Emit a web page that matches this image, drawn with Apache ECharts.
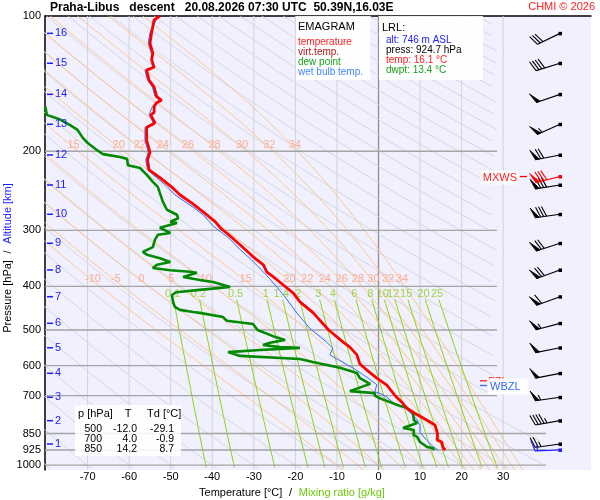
<!DOCTYPE html>
<html>
<head>
<meta charset="utf-8">
<script src="https://cdn.jsdelivr.net/npm/echarts@6.0.0/dist/echarts.min.js"></script>
<style>
html,body{margin:0;padding:0;background:#ffffff;}
#chart{width:600px;height:500px;}
</style>
</head>
<body>
<div id="chart"></div>
<script>
// ================= DATA =================
const pressureTicks = [100, 200, 300, 400, 500, 600, 700, 850, 925, 1000];
const temperatureTicks = [-70, -60, -50, -40, -30, -20, -10, 0, 10, 20, 30];
const altitudeKm = [1, 2, 3, 4, 5, 6, 7, 8, 9, 10, 11, 12, 13, 14, 15, 16];
const altitudeP = [896.9, 795.9, 705.9, 624.3, 547.7, 483.2, 421.6, 367.6, 320.6, 276.3, 237.8, 203.9, 174.2, 149.4, 127.4, 109.3];

// temperature profile
const tempP = [100,102,109,115,121,125,130,132,139,144,151,154,156,159,164,166,173,177,189,201,209,220,229,240,250,261,273,287,296,310,325,344,358,371,381,397,414,433,458,500,532,546,568,595,614,640,663,700,727,746,765,797,814,850,879,888,916,925];
const tempT = [-52.6,-54.0,-54.6,-55.0,-54.3,-54.6,-54.0,-55.8,-55.2,-54.0,-53.4,-52.2,-53.4,-54.0,-54.0,-54.8,-53.8,-55.8,-55.8,-55.0,-55.6,-55.2,-52.6,-49.8,-47.8,-44.9,-42.2,-39.3,-38.1,-35.5,-33.0,-30.1,-27.7,-26.9,-25.3,-22.9,-20.5,-18.9,-15.7,-12.0,-8.5,-6.9,-5.2,-4.5,-2.8,-0.4,2.0,4.0,5.8,6.8,8.6,12.0,13.6,14.2,14.1,15.2,15.6,16.1];

// wet bulb temperature profile
const wetP = [100,109,115,121,130,132,139,144,151,154,159,166,173,177,189,201,209,220,229,240,250,266,277,294,312,330,348,361,386,401,422,460,496,532,549,568,580,610,640,662,686,695,705,727,750,790,815,845,880,910,925];
const wetT = [-53.0,-55.0,-55.4,-54.7,-54.4,-56.2,-55.6,-54.4,-53.8,-52.8,-54.4,-55.2,-54.2,-56.2,-56.2,-55.4,-56.0,-55.6,-53.4,-50.8,-49.0,-44.7,-42.2,-39.7,-36.0,-33.5,-30.7,-29.0,-26.0,-24.5,-22.5,-19.5,-16.5,-12.5,-11.0,-11.7,-10.0,-5.8,-2.5,-0.4,-0.9,0.8,2.0,3.6,6.8,9.2,10.0,10.0,11.6,13.2,14.3];

// dew point profile
const dewP = [159,166,170,175,179,187,192,199,203,206,208,215,218,226,234,240,248,259,270,277,282,287,289,296,304,307,315,327,335,340,346,353,358,364,368,371,373,381,387,391,401,403,407,412,418,435,444,451,456,458,468,477,485,500,516,526,534,540,546,548,554,560,571,580,589,607,623,640,659,684,691,700,710,738,742,765,793,805,826,835,857,865,888,911,916,925];
const dewT = [-80.2,-79.8,-76.6,-74.2,-72.5,-71.1,-69.9,-67.7,-66.3,-62.2,-60.5,-60.3,-57.4,-55.7,-54.3,-53.1,-52.6,-51.9,-50.9,-48.5,-48.2,-50.1,-48.5,-52.6,-50.1,-53.1,-53.8,-54.3,-56.7,-55.7,-52.6,-50.1,-53.3,-54.3,-50.1,-45.4,-43.7,-47.0,-43.0,-39.8,-35.7,-38.1,-43.0,-48.7,-49.7,-49.4,-49.0,-47.8,-44.6,-43.0,-37.4,-36.5,-30.2,-29.1,-25.4,-22.5,-26.1,-27.8,-23.7,-18.9,-28.5,-36.2,-33.3,-18.9,-15.8,-9.3,-5.2,-4.5,-2.0,-6.9,-0.9,-0.9,0.4,5.2,6.6,8.3,8.5,9.3,5.9,8.5,8.5,9.3,10.0,11.7,13.1,13.4];

// wind barbs at altitude levels (1..16 km)
const windP = [896.9, 795.9, 705.9, 624.3, 547.7, 483.2, 421.6, 367.6, 320.6, 276.3, 237.8, 203.9, 174.2, 149.4, 127.4, 109.3];
const windDir = [262, 260, 262, 259, 259, 255, 250, 250, 252, 262, 261, 259, 246, 251, 253, 244];
const windSpd = [25, 45, 55, 50, 50, 55, 60, 70, 70, 80, 80, 70, 55, 50, 40, 30];
const maxWindP = [227.7];
const maxWindDir = [256];
const maxWindSpd = [80];
const surfaceP = [924.7];
const surfaceDir = [268];
const surfaceSpd = [15];
const freezingLevelP = [652];
const wetBulbZeroP = [668];

// thermodynamic reference lines
const dryAdiabatThetaC = [-80,-70,-60,-50,-40,-30,-20,-10,0,10,20,30,40,50,60,70,80,90,100,110,120,130,140,150,160,170,180,190,200,210,220,230,240,250,260,270,280,290,300,310];
const moistThetaW = [-10,-5,0,5,10,15,20,22,24,26,28,30,32,34];
const upperMoistLabels = [15,20,22,24,26,28,30,32,34];
const lowerMoistLabels = [-10,-5,0,5,10,15,20,22,24,26,28,30,32,34];
const mixingRatios = [0.1,0.2,0.5,1,1.4,2,3,4,6,8,10,12,15,20,25];

// table & LRL box
const tableP = [500, 700, 850];
const tableT = [-12.0, 4.0, 14.2];
const tableTd = [-29.1, -0.9, 8.7];
const lrlAlt = 746, lrlPress = 924.7, lrlTemp = 16.1, lrlDwpt = 13.4;

// ================= LAYOUT / STYLE =================
const X_MIN = -80.25, X_MAX = 51.13, P_TOP = 100, P_BOT = 1024.8;
const FONT = '"Liberation Sans", Arial, sans-serif';
const UPPER_LABEL_P = 193.7, LOWER_LABEL_P = 385.6, MIX_LABEL_P = 415.7, MIX_TOP_P = 428;
function tMax(p) { return p < 780 ? 28.5 : 40.3; }

// ================= helpers =================
function zip(ps, ts) { return ps.map((p, i) => [ts[i], p]); }
function lineSeries(data, color, width, z) {
  return { type: 'line', data: data, showSymbol: false, symbol: 'none', silent: true,
    animation: false, clip: true, z: z, lineStyle: { color: color, width: width } };
}
function satVap(tc) { return 6.112 * Math.exp(17.67 * tc / (tc + 243.5)); }
function moistRate(tk, p) {
  const e = satVap(tk - 273.15);
  const r = 0.622 * e / Math.max(p - e, 1e-3);
  return (287.04 * tk + 2.501e6 * r) / (1005.7 + 2.501e6 * 2.501e6 * r * 0.622 / (287.04 * tk * tk));
}
function rk4(tk, lp, h) {
  const f = (t, l) => moistRate(t, Math.exp(l));
  const k1 = f(tk, lp), k2 = f(tk + h / 2 * k1, lp + h / 2), k3 = f(tk + h / 2 * k2, lp + h / 2), k4 = f(tk + h * k3, lp + h);
  return tk + h / 6 * (k1 + 2 * k2 + 2 * k3 + k4);
}
function moistCurve(thw) {
  const up = []; let tk = thw + 273.15, lp = Math.log(1000);
  const lpTop = Math.log(P_TOP), lpBot = Math.log(P_BOT), h = 0.01;
  while (lp > lpTop + 1e-9) { const hh = -Math.min(h, lp - lpTop); tk = rk4(tk, lp, hh); lp += hh; up.push([tk - 273.15, Math.exp(lp)]); }
  up.reverse(); up.push([thw, 1000]);
  tk = thw + 273.15; lp = Math.log(1000);
  while (lp < lpBot - 1e-9) { const hh = Math.min(h, lpBot - lp); tk = rk4(tk, lp, hh); lp += hh; up.push([tk - 273.15, Math.exp(lp)]); }
  return up;
}
function dryCurve(thC) {
  const pts = []; const th = thC + 273.15;
  for (let lp = Math.log(P_TOP); lp <= Math.log(P_BOT) + 1e-9; lp += 0.02) {
    const p = Math.exp(lp); pts.push([th * Math.pow(p / 1000, 0.2857) - 273.15, p]);
  }
  return pts;
}
function mixDewPoint(w, p) { const e = w * p / (622 + w); const l = Math.log(e / 6.112); return 243.5 * l / (17.67 - l); }
function mixCurve(w) {
  const pts = [];
  for (let lp = Math.log(MIX_TOP_P); lp <= Math.log(P_BOT) + 1e-9; lp += 0.02) {
    const p = Math.exp(lp); pts.push([mixDewPoint(w, p), p]);
  }
  return pts;
}
function segments(pts) {
  const segs = []; let cur = [];
  pts.forEach(pt => { if (pt[0] <= tMax(pt[1])) cur.push(pt); else { if (cur.length > 1) segs.push(cur); cur = []; } });
  if (cur.length > 1) segs.push(cur);
  return segs;
}
function tAt(pts, p) {
  const lp = Math.log(p);
  for (let i = 1; i < pts.length; i++) {
    const a = Math.log(pts[i - 1][1]), b = Math.log(pts[i][1]);
    if ((lp - a) * (lp - b) <= 0) { const f = (lp - a) / (b - a || 1); return pts[i - 1][0] + f * (pts[i][0] - pts[i - 1][0]); }
  }
  return NaN;
}
function textSeries(items, z) {
  return { type: 'custom', silent: true, animation: false, clip: false, z: z,
    data: items.map(it => [it.T, it.p]),
    renderItem: function (params, api) {
      const it = items[params.dataIndex];
      const pt = api.coord([api.value(0), api.value(1)]);
      const st = { text: it.text, fill: it.color, font: it.font || ('11px ' + FONT), align: it.align || 'center', verticalAlign: 'middle' };
      if (it.bg) { st.backgroundColor = it.bg; st.padding = it.pad || [2, 2]; }
      const children = [{ type: 'text', x: pt[0] + (it.dx || 0), y: pt[1] + (it.dy || 0), style: st }];
      if (it.tick) children.push({ type: 'line', shape: { x1: pt[0] + it.tick[0], y1: pt[1] + (it.dy || 0), x2: pt[0] + it.tick[1], y2: pt[1] + (it.dy || 0) }, style: { stroke: it.color, lineWidth: it.tickW || 1.5 } });
      return { type: 'group', children: children };
    } };
}
function barbShape(px, py, dir, spd, color) {
  const L = 25, BL = 11, FW = 4, SP = 3;
  const a = dir * Math.PI / 180;
  const ux = Math.sin(a), uy = -Math.cos(a);
  const tx = px + ux * L, ty = py + uy * L;
  const c = Math.cos(70 * Math.PI / 180), s = Math.sin(70 * Math.PI / 180);
  const bx = ux * c - uy * s, by = ux * s + uy * c;
  const ch = [];
  ch.push({ type: 'line', shape: { x1: px, y1: py, x2: tx, y2: ty }, style: { stroke: color, lineWidth: 1.2 } });
  ch.push({ type: 'rect', shape: { x: px - 1.5, y: py - 1.5, width: 3.5, height: 3.5 }, style: { fill: color } });
  const flags = Math.floor(spd / 50); let rem = spd - 50 * flags;
  const full = Math.floor(rem / 10); const half = (rem - 10 * full) >= 5 ? 1 : 0;
  let off = 0;
  for (let i = 0; i < flags; i++) {
    const x0 = tx - ux * off, y0 = ty - uy * off;
    ch.push({ type: 'polygon', shape: { points: [[x0, y0], [x0 + bx * BL, y0 + by * BL], [x0 - ux * FW, y0 - uy * FW]] }, style: { fill: color, stroke: color, lineWidth: 0.8 } });
    off += FW + 1.5;
  }
  for (let i = 0; i < full; i++) {
    const x0 = tx - ux * off, y0 = ty - uy * off;
    ch.push({ type: 'line', shape: { x1: x0, y1: y0, x2: x0 + bx * BL, y2: y0 + by * BL }, style: { stroke: color, lineWidth: 1.1 } });
    off += SP;
  }
  if (half) {
    if (flags === 0 && full === 0) off = SP;
    const x0 = tx - ux * off, y0 = ty - uy * off;
    ch.push({ type: 'line', shape: { x1: x0, y1: y0, x2: x0 + bx * BL / 2, y2: y0 + by * BL / 2 }, style: { stroke: color, lineWidth: 1.1 } });
  }
  return ch;
}
function barbSeries(ps, dirs, spds, color, z, extra) {
  return { type: 'custom', silent: true, animation: false, clip: false, z: z,
    data: ps.map((p, i) => [0, p, dirs[i], spds[i]]),
    renderItem: function (params, api) {
      const cs = params.coordSys;
      const px = cs.x + cs.width - 31;
      const py = api.coord([0, api.value(1)])[1];
      let ch = barbShape(px, py, api.value(2), api.value(3), color);
      if (extra) ch = ch.concat(extra(px, py));
      return { type: 'group', children: ch };
    } };
}

// ================= build series =================
const series = [];
// vertical grid lines
temperatureTicks.forEach(t => series.push(lineSeries([[t, P_TOP], [t, P_BOT]], t === 0 ? '#8e8e8e' : '#d2d2d8', t === 0 ? 1.3 : 1, 1)));
// dry adiabats
dryAdiabatThetaC.forEach(th => segments(dryCurve(th)).forEach(s => series.push(lineSeries(s, '#d4d4dc', 0.9, 1))));
// moist adiabats
const moistCurves = {};
moistThetaW.forEach(tw => { const c = moistCurve(tw); moistCurves[tw] = c; segments(c).forEach(s => series.push(lineSeries(s, '#ffc37e', 0.9, 1))); });
// mixing ratio lines
mixingRatios.forEach(w => segments(mixCurve(w)).forEach(s => series.push(lineSeries(s, '#8ed50a', 1, 1))));
// horizontal pressure grid lines
pressureTicks.filter(p => p > 100).forEach(p => series.push(lineSeries([[X_MIN, p], [tMax(p), p]], '#a4a4a4', 1.3, 1)));

// labels of reference lines
const refLabels = [];
upperMoistLabels.forEach(tw => refLabels.push({ T: tAt(moistCurves[tw], UPPER_LABEL_P), p: UPPER_LABEL_P, text: String(tw), color: '#ffac8e', font: '11px ' + FONT, dx: 3 }));
lowerMoistLabels.forEach(tw => refLabels.push({ T: tAt(moistCurves[tw], LOWER_LABEL_P), p: LOWER_LABEL_P, text: String(tw), color: '#ffac8e', font: '11px ' + FONT, dx: 2 }));
mixingRatios.forEach(w => refLabels.push({ T: mixDewPoint(w, MIX_LABEL_P), p: MIX_LABEL_P, text: String(w), color: '#9fd43c', font: '11px ' + FONT }));
series.push(textSeries(refLabels, 2));

// profiles
series.push(lineSeries(zip(wetP, wetT), '#2f6dff', 1, 4));
series.push(lineSeries(zip(dewP, dewT), '#008a00', 2.6, 5));
series.push(lineSeries(zip(tempP, tempT), '#ff0000', 2.8, 6));

// axis tick labels
const axisLabels = [];
pressureTicks.forEach(p => axisLabels.push({ T: X_MIN, p: p, text: String(p), color: '#000', align: 'right', dx: -4, font: '11px ' + FONT }));
temperatureTicks.forEach(t => axisLabels.push({ T: t, p: P_BOT, text: String(t), color: '#000', dy: 7, font: '11px ' + FONT }));
altitudeKm.forEach((k, i) => axisLabels.push({ T: X_MIN, p: altitudeP[i], text: String(k), color: '#1c1cff', align: 'left', dx: 10, font: '11px ' + FONT, tick: [2, 8] }));
series.push(textSeries(axisLabels, 7));

// level markers (freezing level, wet bulb zero)
const levelLabels = [
  { T: 0, p: freezingLevelP[0], text: 'FZL', color: '#ff2020', align: 'left', font: '11px ' + FONT },
  { T: 0, p: wetBulbZeroP[0], text: 'WBZL', color: '#2f6dff', align: 'left', font: '11px ' + FONT, bg: 'rgba(255,255,255,0.88)', pad: [3, 8, 2, 2] }
];
series.push({ type: 'custom', silent: true, animation: false, clip: false, z: 8,
  data: levelLabels.map(it => [0, it.p]),
  renderItem: function (params, api) {
    const it = levelLabels[params.dataIndex];
    const cs = params.coordSys; const px = cs.x + cs.width - 111;
    const py = api.coord([0, api.value(1)])[1];
    const st = { text: it.text, fill: it.color, font: it.font, align: 'left', verticalAlign: 'middle' };
    if (it.bg) { st.backgroundColor = it.bg; st.padding = it.pad; }
    return { type: 'group', children: [
      { type: 'line', shape: { x1: px, y1: py - 1, x2: px + 7, y2: py - 1 }, style: { stroke: it.color, lineWidth: 1.3 } },
      { type: 'text', x: px + 8, y: py, style: st } ] };
  } });

// wind barbs
series.push(barbSeries(windP, windDir, windSpd, '#000000', 9));
series.push(barbSeries(maxWindP, maxWindDir, maxWindSpd, '#ff0000', 10, (px, py) => [
  { type: 'line', shape: { x1: px - 40, y1: py, x2: px - 33, y2: py }, style: { stroke: '#ff0000', lineWidth: 1.3 } },
  { type: 'text', x: px - 42, y: py + 1, style: { text: 'MXWS', fill: '#ff2020', font: '11px ' + FONT, align: 'right', verticalAlign: 'middle', backgroundColor: 'rgba(255,255,255,0.9)', padding: [2, 1, 1, 2] } }
]));
series.push(barbSeries(surfaceP, surfaceDir, surfaceSpd, '#1a1aff', 10));

// ================= graphic (titles, boxes) =================
const G = [];
function txt(x, y, text, color, font, align, extra) {
  const o = { type: 'text', x: x, y: y, z: 100, silent: true, style: Object.assign({ text: text, fill: color, font: font, align: align || 'left', verticalAlign: 'middle' }, extra || {}) };
  G.push(o);
}
txt(50, 8, 'Praha-Libus   descent   20.08.2026 07:30 UTC  50.39N,16.03E', '#000', 'bold 12px ' + FONT);
txt(595, 7, 'CHMI \u00a9 2026', '#ff2020', '11px ' + FONT, 'right');
// legend box
G.push({ type: 'rect', z: 99, silent: true, shape: { x: 296, y: 16, width: 74, height: 64 }, style: { fill: 'rgba(255,255,255,0.9)' } });
txt(298, 26.5, 'EMAGRAM', '#000', '11px ' + FONT);
txt(298, 42.5, 'temperature', '#ff2020', '10px ' + FONT);
txt(298, 52.5, 'virt.temp.', '#b01818', '10px ' + FONT);
txt(298, 62.5, 'dew point', '#18a018', '10px ' + FONT);
txt(298, 72.5, 'wet bulb temp.', '#4585ff', '10px ' + FONT);
// LRL box
G.push({ type: 'rect', z: 99, silent: true, shape: { x: 379, y: 16, width: 104, height: 64 }, style: { fill: 'rgba(255,255,255,0.9)' } });
txt(382, 27.5, 'LRL:', '#000', '11px ' + FONT);
txt(386, 40, 'alt: ' + lrlAlt + ' m ASL', '#2020ff', '10px ' + FONT);
txt(386, 50, 'press: ' + lrlPress.toFixed(1) + ' hPa', '#000', '10px ' + FONT);
txt(386, 60, 'temp: ' + lrlTemp.toFixed(1) + ' \u00b0C', '#ff2020', '10px ' + FONT);
txt(386, 70, 'dwpt: ' + lrlDwpt.toFixed(1) + ' \u00b0C', '#18a018', '10px ' + FONT);
// table box
G.push({ type: 'rect', z: 99, silent: true, shape: { x: 75, y: 405, width: 106, height: 51 }, style: { fill: 'rgba(255,255,255,0.88)' } });
txt(78, 414, 'p [hPa]', '#000', '11px ' + FONT);
txt(128, 414, 'T', '#000', '11px ' + FONT, 'center');
txt(147, 414, 'Td [\u00b0C]', '#000', '11px ' + FONT);
tableP.forEach((p, i) => {
  const y = 429 + i * 10;
  txt(102, y, String(p), '#000', '10.5px ' + FONT, 'right');
  txt(137, y, tableT[i].toFixed(1), '#000', '10.5px ' + FONT, 'right');
  txt(174, y, tableTd[i].toFixed(1), '#000', '10.5px ' + FONT, 'right');
});
// axis names
G.push({ type: 'text', z: 100, silent: true, x: 292, y: 493, style: {
  text: '{a|Temperature [\u00b0C]}  {a|/}  {b|Mixing ratio [g/kg]}', align: 'center', verticalAlign: 'middle',
  rich: { a: { fill: '#000', font: '11px ' + FONT }, b: { fill: '#6cc80a', font: '11px ' + FONT } } } });
G.push({ type: 'text', z: 100, silent: true, x: 8, y: 258, rotation: Math.PI / 2, style: {
  text: '{a|Pressure [hPa]}  {a|/}  {b|Altitude [km]}', align: 'center', verticalAlign: 'middle',
  rich: { a: { fill: '#000', font: '11px ' + FONT }, b: { fill: '#2020ff', font: '11px ' + FONT } } } });

// ================= chart =================
const chart = echarts.init(document.getElementById('chart'), null, { renderer: 'canvas', width: 600, height: 500 });
chart.setOption({
  animation: false,
  backgroundColor: '#ffffff',
  grid: { left: 45, top: 16, width: 546, height: 454, show: true, backgroundColor: '#f0f0fe', borderWidth: 0 },
  xAxis: { type: 'value', min: X_MIN, max: X_MAX, position: 'top',
    axisLine: { show: true, onZero: false, lineStyle: { color: '#000', width: 1.5 } },
    axisTick: { show: false }, axisLabel: { show: false }, splitLine: { show: false } },
  yAxis: { type: 'log', logBase: 10, min: P_TOP, max: P_BOT, inverse: true, position: 'left',
    axisLine: { show: true, onZero: false, lineStyle: { color: '#000', width: 1.5 } },
    axisTick: { show: false }, axisLabel: { show: false }, splitLine: { show: false }, minorSplitLine: { show: false } },
  series: series,
  graphic: G
});
</script>
</body>
</html>
